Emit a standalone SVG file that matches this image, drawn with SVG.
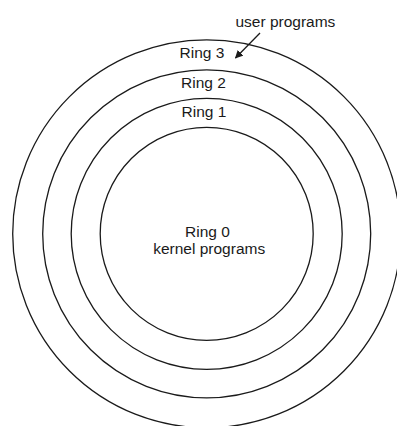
<svg xmlns="http://www.w3.org/2000/svg" width="397" height="426" viewBox="0 0 397 426">
  <style>
    .ring { fill: none; stroke: #1a1a1a; stroke-width: 1.3; }
    .label { font-family: "Liberation Sans", Arial, sans-serif; font-size: 15.5px; fill: #1a1a1a; text-anchor: middle; }
    .pointer { stroke: #1a1a1a; stroke-width: 1.3; fill: none; }
  </style>
  <defs>
    <marker id="arrowhead" viewBox="0 0 10 10" refX="9" refY="5" markerWidth="8" markerHeight="8" markerUnits="userSpaceOnUse" orient="auto">
      <path d="M0,0 L10,5 L0,10 Z" fill="#1a1a1a"/>
    </marker>
  </defs>
  <rect width="397" height="426" fill="#ffffff"/>

  <!-- protection rings, outermost first -->
  <g id="ring3">
    <circle class="ring" cx="206.7" cy="233.8" r="194"/>
    <text class="label" x="202" y="58.3">Ring 3</text>
  </g>
  <g id="ring2">
    <circle class="ring" cx="206.7" cy="233.8" r="164"/>
    <text class="label" x="203.5" y="88.3">Ring 2</text>
  </g>
  <g id="ring1">
    <circle class="ring" cx="206.7" cy="233.8" r="135.5"/>
    <text class="label" x="204" y="117">Ring 1</text>
  </g>
  <g id="ring0">
    <circle class="ring" cx="206.7" cy="233.8" r="106.5"/>
    <text class="label" x="207.5" y="237.3">Ring 0</text>
    <text class="label" x="209.2" y="254.3">kernel programs</text>
  </g>

  <g id="user-programs">
    <text class="label" x="285.4" y="26.7">user programs</text>
  </g>

  <g id="connectors">
    <line class="pointer" x1="260" y1="33" x2="235.5" y2="58" marker-end="url(#arrowhead)"/>
  </g>
</svg>
